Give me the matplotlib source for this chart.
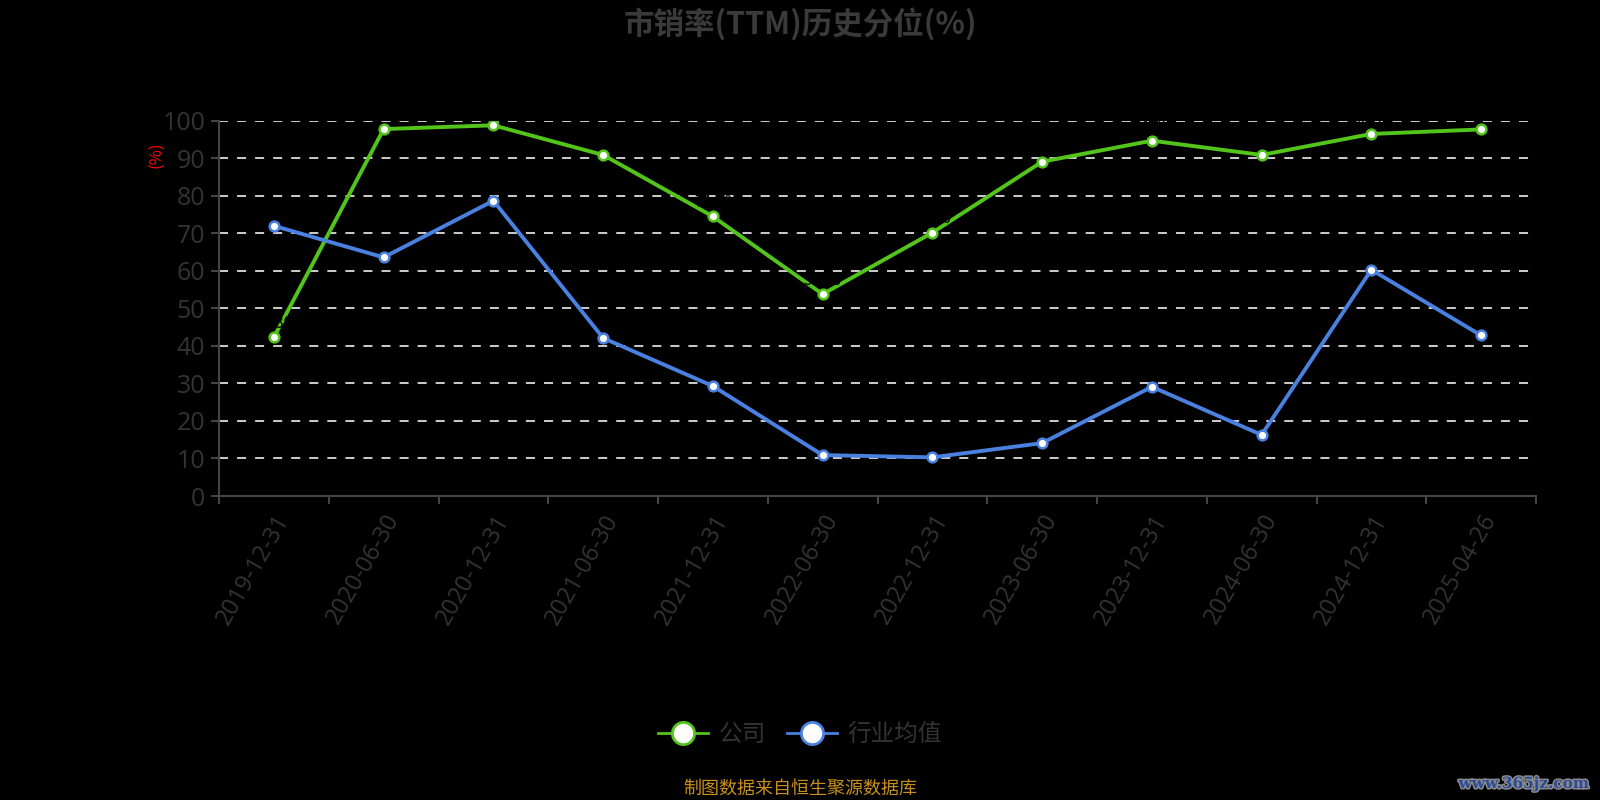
import matplotlib
matplotlib.use("Agg")
import matplotlib.pyplot as plt
import matplotlib.patheffects as pe
from matplotlib.lines import Line2D

plt.rcParams['font.family'] = ['Noto Sans CJK SC', 'DejaVu Sans']

categories = ["2019-12-31", "2020-06-30", "2020-12-31", "2021-06-30", "2021-12-31",
              "2022-06-30", "2022-12-31", "2023-06-30", "2023-12-31", "2024-06-30",
              "2024-12-31", "2025-04-26"]
company = [42.3, 97.8, 98.8, 90.9, 74.5, 53.8, 70.2, 89.1, 94.7, 90.9, 96.5, 97.7]
industry = [72.0, 63.6, 78.7, 42.1, 29.3, 10.9, 10.3, 14.1, 29.1, 16.3, 60.3, 42.8]
yticks = [0, 10, 20, 30, 40, 50, 60, 70, 80, 90, 100]

green = '#52c41a'
blue = '#4a80e0'
grey = '#333333'
numfont = ['Open Sans', 'DejaVu Sans']

fig = plt.figure(figsize=(16, 8), dpi=100, facecolor='black')
ax = fig.add_axes([0.1369, 0.38, 0.8231, 0.469])
ax.set_facecolor('black')

x = list(range(len(categories)))
ax.plot(x, company, color=green, lw=2.8, marker='o', ms=7, mfc='white', mec=green, mew=1.8, zorder=4)
ax.plot(x, industry, color=blue, lw=2.8, marker='o', ms=7, mfc='white', mec=blue, mew=1.8, zorder=4)
for xi, v in zip(x, company):
    ax.text(xi, v + 1.5, f"{v:.2f}", color='black', fontsize=11, ha='center', va='bottom', zorder=5)

ax.set_xlim(-0.5, len(categories) - 0.5)
ax.set_ylim(0, 100)
ax.set_yticks(yticks)
ax.set_yticklabels([str(t) for t in yticks], color=grey, fontsize=18, family=numfont)
for t in yticks[1:]:
    ax.axhline(t, color='#dddddd', lw=1.3, ls=(0, (5, 5)), zorder=1)

ax.set_xticks(x)
ax.set_xticklabels(categories, rotation=60, ha='right', rotation_mode='anchor', color=grey,
                   fontsize=17, family=numfont)
ax.set_xticks([i - 0.5 for i in range(len(categories) + 1)], minor=True)
ax.tick_params(axis='x', which='major', length=0, pad=10)
ax.tick_params(axis='x', which='minor', length=6, color='#444444', width=1.5)
ax.tick_params(axis='y', length=6, color='#444444', width=1.5, pad=4)

for s in ['top', 'right']:
    ax.spines[s].set_visible(False)
for s in ['left', 'bottom']:
    ax.spines[s].set_color('#444444')
    ax.spines[s].set_linewidth(1.5)

fig.text(0.5, 0.97, "市销率(TTM)历史分位(%)", color='#3a3a3a', fontsize=22, fontweight='bold',
         ha='center', va='center')
fig.text(0.0975, 0.806, "(%)", color='red', fontsize=12, rotation=90, ha='center', va='center')

handles = [Line2D([0], [0], color=green, lw=2, marker='o', ms=16, mfc='white', mec=green, mew=2),
           Line2D([0], [0], color=blue, lw=2, marker='o', ms=16, mfc='white', mec=blue, mew=2)]
leg = fig.legend(handles, ["公司", "行业均值"], loc='center', bbox_to_anchor=(0.5, 0.0815),
                 ncol=2, frameon=False, fontsize=17, labelcolor=grey, handlelength=2.1,
                 columnspacing=0.9, handletextpad=0.45)

fig.text(0.5, 0.014, "制图数据来自恒生聚源数据库", color='#c8901a', fontsize=13, ha='center', va='center')
fig.text(0.993, 0.02, "www.365jz.com", color='#2a4a9a', fontsize=11, fontweight='bold',
         ha='right', va='center', family=['DejaVu Serif'],
         path_effects=[pe.withStroke(linewidth=2.2, foreground='#8a8a8a')])

fig.savefig("out.png", dpi=100, facecolor='black')
